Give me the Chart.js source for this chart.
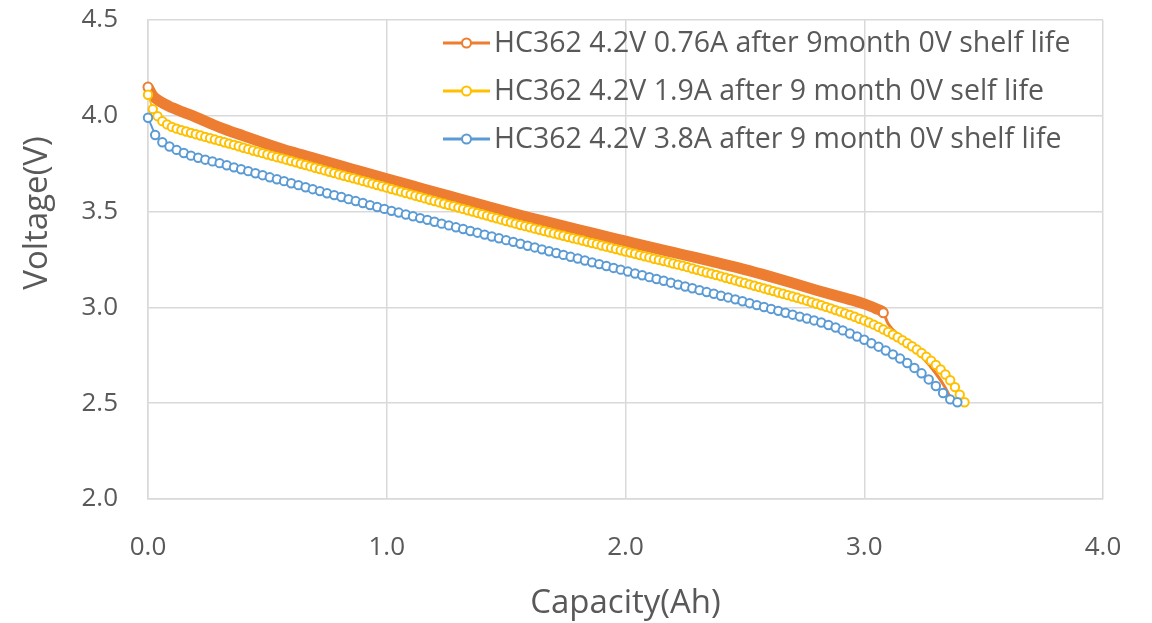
<!DOCTYPE html>
<html>
<head>
<meta charset="utf-8">
<title>HC362 discharge after 0V shelf life</title>
<script src="https://cdn.jsdelivr.net/npm/chart.js@4.4.1/dist/chart.umd.min.js"></script>
<style>
    html, body { margin: 0; padding: 0; background: #fff; }
    #wrap { width: 1152px; height: 623px; }
</style>
</head>
<body>
<div id="wrap"><canvas id="dischargeChart" width="1152" height="623"></canvas></div>
<script>
// ============================================
// DATA
// ============================================

const seriesLabels = [
    'HC362 4.2V 0.76A after 9month 0V shelf life',
    'HC362 4.2V 1.9A after 9 month 0V self life',
    'HC362 4.2V 3.8A after 9 month 0V shelf life'
];
const seriesColors = ['#ED7D31', '#FFC000', '#5B9BD5'];

const xTicks = [0, 1, 2, 3, 4];
const yTicks = [2.0, 2.5, 3.0, 3.5, 4.0, 4.5];

// 0.76A run: logged so densely the markers merge into a band
const orangeCap = [0, 0.02, 0.05, 0.10, 0.15, 0.20, 0.30, 0.40, 0.50, 0.60, 0.70, 0.80, 0.90, 1.00,
    1.10, 1.20, 1.30, 1.40, 1.50, 1.60, 1.70, 1.80, 1.90, 2.00, 2.10, 2.20, 2.30, 2.40, 2.50,
    2.60, 2.70, 2.80, 2.90, 2.95, 3.00, 3.05, 3.08];
const orangeVolt = [4.150, 4.105, 4.075, 4.043, 4.018, 3.993, 3.940, 3.895, 3.852, 3.812, 3.777, 3.742, 3.706, 3.671,
    3.637, 3.602, 3.568, 3.534, 3.500, 3.468, 3.437, 3.406, 3.376, 3.346, 3.316, 3.287, 3.258, 3.228, 3.197,
    3.163, 3.127, 3.090, 3.055, 3.038, 3.018, 2.993, 2.972];
// line-only tail of the 0.76A run
const orangeTailCap = [3.10, 3.16, 3.24, 3.30, 3.34, 3.37];
const orangeTailVolt = [2.915, 2.840, 2.745, 2.655, 2.580, 2.505];

const yellowCap = [
    0, 0.02, 0.04, 0.06, 0.08, 0.10, 0.12, 0.14, 0.16, 0.18,
    0.20, 0.22, 0.24, 0.26, 0.28, 0.30, 0.32, 0.34, 0.36, 0.38,
    0.40, 0.42, 0.44, 0.46, 0.48, 0.50, 0.52, 0.54, 0.56, 0.58,
    0.60, 0.62, 0.64, 0.66, 0.68, 0.70, 0.72, 0.74, 0.76, 0.78,
    0.80, 0.82, 0.84, 0.86, 0.88, 0.90, 0.92, 0.94, 0.96, 0.98,
    1.00, 1.02, 1.04, 1.06, 1.08, 1.10, 1.12, 1.14, 1.16, 1.18,
    1.20, 1.22, 1.24, 1.26, 1.28, 1.30, 1.32, 1.34, 1.36, 1.38,
    1.40, 1.42, 1.44, 1.46, 1.48, 1.50, 1.52, 1.54, 1.56, 1.58,
    1.60, 1.62, 1.64, 1.66, 1.68, 1.70, 1.72, 1.74, 1.76, 1.78,
    1.80, 1.82, 1.84, 1.86, 1.88, 1.90, 1.92, 1.94, 1.96, 1.98,
    2.00, 2.02, 2.04, 2.06, 2.08, 2.10, 2.12, 2.14, 2.16, 2.18,
    2.20, 2.22, 2.24, 2.26, 2.28, 2.30, 2.32, 2.34, 2.36, 2.38,
    2.40, 2.42, 2.44, 2.46, 2.48, 2.50, 2.52, 2.54, 2.56, 2.58,
    2.60, 2.62, 2.64, 2.66, 2.68, 2.70, 2.72, 2.74, 2.76, 2.78,
    2.80, 2.82, 2.84, 2.86, 2.88, 2.90, 2.92, 2.94, 2.96, 2.98,
    3.00, 3.02, 3.04, 3.06, 3.08, 3.10, 3.12, 3.14, 3.16, 3.18,
    3.20, 3.22, 3.24, 3.26, 3.28, 3.30, 3.32, 3.34, 3.36, 3.38,
    3.40, 3.42];
const yellowVolt = [
    4.110, 4.035, 3.998, 3.972, 3.955, 3.942, 3.933, 3.925, 3.918, 3.911,
    3.904, 3.897, 3.890, 3.883, 3.876, 3.869, 3.862, 3.855, 3.848, 3.841,
    3.833, 3.826, 3.819, 3.812, 3.805, 3.798, 3.791, 3.784, 3.778, 3.771,
    3.764, 3.757, 3.750, 3.743, 3.736, 3.729, 3.722, 3.715, 3.708, 3.701,
    3.694, 3.687, 3.680, 3.674, 3.667, 3.660, 3.653, 3.646, 3.639, 3.632,
    3.625, 3.618, 3.611, 3.604, 3.597, 3.590, 3.583, 3.576, 3.569, 3.562,
    3.555, 3.548, 3.541, 3.534, 3.528, 3.521, 3.514, 3.507, 3.500, 3.493,
    3.486, 3.479, 3.472, 3.465, 3.458, 3.451, 3.444, 3.437, 3.430, 3.424,
    3.418, 3.411, 3.405, 3.399, 3.392, 3.386, 3.380, 3.374, 3.367, 3.361,
    3.355, 3.349, 3.342, 3.336, 3.330, 3.323, 3.317, 3.311, 3.305, 3.298,
    3.292, 3.286, 3.280, 3.273, 3.267, 3.261, 3.254, 3.248, 3.242, 3.236,
    3.229, 3.223, 3.217, 3.210, 3.203, 3.196, 3.189, 3.182, 3.176, 3.169,
    3.162, 3.155, 3.148, 3.141, 3.134, 3.127, 3.120, 3.113, 3.106, 3.099,
    3.092, 3.085, 3.078, 3.071, 3.064, 3.057, 3.050, 3.042, 3.035, 3.027,
    3.019, 3.011, 3.003, 2.995, 2.986, 2.978, 2.969, 2.960, 2.951, 2.941,
    2.932, 2.921, 2.910, 2.898, 2.885, 2.872, 2.858, 2.844, 2.829, 2.813,
    2.797, 2.780, 2.762, 2.743, 2.722, 2.700, 2.676, 2.650, 2.620, 2.584,
    2.545, 2.505];

const blueCap = [
    0, 0.03, 0.06, 0.09, 0.12, 0.15, 0.18, 0.21, 0.24, 0.27,
    0.30, 0.33, 0.36, 0.39, 0.42, 0.45, 0.48, 0.51, 0.54, 0.57,
    0.60, 0.63, 0.66, 0.69, 0.72, 0.75, 0.78, 0.81, 0.84, 0.87,
    0.90, 0.93, 0.96, 0.99, 1.02, 1.05, 1.08, 1.11, 1.14, 1.17,
    1.20, 1.23, 1.26, 1.29, 1.32, 1.35, 1.38, 1.41, 1.44, 1.47,
    1.50, 1.53, 1.56, 1.59, 1.62, 1.65, 1.68, 1.71, 1.74, 1.77,
    1.80, 1.83, 1.86, 1.89, 1.92, 1.95, 1.98, 2.01, 2.04, 2.07,
    2.10, 2.13, 2.16, 2.19, 2.22, 2.25, 2.28, 2.31, 2.34, 2.37,
    2.40, 2.43, 2.46, 2.49, 2.52, 2.55, 2.58, 2.61, 2.64, 2.67,
    2.70, 2.73, 2.76, 2.79, 2.82, 2.85, 2.88, 2.91, 2.94, 2.97,
    3.00, 3.03, 3.06, 3.09, 3.12, 3.15, 3.18, 3.21, 3.24, 3.27,
    3.30, 3.33, 3.36, 3.39];
const blueVolt = [
    3.990, 3.900, 3.862, 3.840, 3.822, 3.806, 3.792, 3.781, 3.771, 3.762,
    3.753, 3.742, 3.731, 3.721, 3.711, 3.700, 3.690, 3.679, 3.669, 3.659,
    3.648, 3.638, 3.627, 3.617, 3.607, 3.596, 3.586, 3.576, 3.565, 3.555,
    3.545, 3.534, 3.524, 3.514, 3.504, 3.495, 3.485, 3.476, 3.466, 3.457,
    3.447, 3.437, 3.428, 3.418, 3.409, 3.399, 3.390, 3.380, 3.370, 3.361,
    3.351, 3.342, 3.332, 3.322, 3.313, 3.303, 3.293, 3.284, 3.274, 3.264,
    3.255, 3.245, 3.235, 3.226, 3.216, 3.206, 3.197, 3.187, 3.177, 3.168,
    3.158, 3.148, 3.139, 3.129, 3.119, 3.109, 3.100, 3.090, 3.080, 3.071,
    3.061, 3.052, 3.042, 3.032, 3.022, 3.012, 3.002, 2.992, 2.982, 2.972,
    2.962, 2.952, 2.942, 2.932, 2.921, 2.908, 2.895, 2.880, 2.864, 2.848,
    2.831, 2.813, 2.795, 2.775, 2.755, 2.733, 2.710, 2.684, 2.656, 2.624,
    2.590, 2.553, 2.520, 2.505];

const xTitle = 'Capacity(Ah)';
const yTitle = 'Voltage(V)';

// ============================================
// HELPERS
// ============================================

const FONT = "'Open Sans', 'Noto Sans', sans-serif";
const TEXT_COLOR = '#595959';
const GRID_COLOR = '#d9d9d9';

function toPoints(caps, volts) {
    return caps.map((c, i) => ({ x: c, y: volts[i] }));
}

const orangeBandEnd = orangeCap.length - 1;

// legend + axis titles, drawn on top of the plot
const annotations = {
    id: 'annotations',
    afterDraw(chart) {
        const ctx = chart.ctx;
        ctx.save();

        // legend, stacked in the upper right of the plot
        ctx.font = '28.5px ' + FONT;
        ctx.textBaseline = 'middle';
        ctx.textAlign = 'left';
        chart.data.datasets.forEach((ds, i) => {
            const y = 43 + i * 48;
            ctx.strokeStyle = ds.borderColor;
            ctx.lineWidth = 3;
            ctx.beginPath();
            ctx.moveTo(443, y);
            ctx.lineTo(490, y);
            ctx.stroke();
            ctx.beginPath();
            ctx.arc(466.5, y, 4.5, 0, Math.PI * 2);
            ctx.fillStyle = '#fff';
            ctx.fill();
            ctx.lineWidth = 2;
            ctx.stroke();
            ctx.fillStyle = TEXT_COLOR;
            ctx.fillText(ds.label, 494, y + 1);
        });

        // axis titles
        const area = chart.chartArea;
        ctx.font = '33px ' + FONT;
        ctx.fillStyle = TEXT_COLOR;
        ctx.textAlign = 'center';
        ctx.fillText(xTitle, (area.left + area.right) / 2, 604);

        ctx.translate(38, 213);
        ctx.rotate(-Math.PI / 2);
        ctx.fillText(yTitle, 0, 0);

        ctx.restore();
    }
};

// ============================================
// CHART
// ============================================

const datasets = [
    {
        label: seriesLabels[0],
        data: toPoints(orangeCap.concat(orangeTailCap), orangeVolt.concat(orangeTailVolt)),
        borderColor: seriesColors[0],
        borderWidth: 11,
        borderJoinStyle: 'round',
        cubicInterpolationMode: 'monotone',
        pointRadius: c => (c.dataIndex === 0 || c.dataIndex === orangeBandEnd) ? 4.5 : 0,
        pointBackgroundColor: '#fff',
        pointBorderColor: seriesColors[0],
        pointBorderWidth: 2,
        segment: {
            borderWidth: c => c.p0DataIndex < orangeBandEnd ? 11 : 3
        },
        clip: false,
        order: 3
    },
    {
        label: seriesLabels[1],
        data: toPoints(yellowCap, yellowVolt),
        borderColor: seriesColors[1],
        borderWidth: 2,
        pointRadius: 4.2,
        pointBackgroundColor: '#fff',
        pointBorderColor: seriesColors[1],
        pointBorderWidth: 2,
        clip: false,
        order: 2
    },
    {
        label: seriesLabels[2],
        data: toPoints(blueCap, blueVolt),
        borderColor: seriesColors[2],
        borderWidth: 2,
        pointRadius: 4.2,
        pointBackgroundColor: '#fff',
        pointBorderColor: seriesColors[2],
        pointBorderWidth: 2,
        clip: false,
        order: 1
    }
];

new Chart(document.getElementById('dischargeChart'), {
    type: 'line',
    data: { datasets: datasets },
    options: {
        responsive: false,
        animation: false,
        devicePixelRatio: 1,
        layout: { padding: { top: 20, right: 49, left: 0, bottom: 0 } },
        plugins: {
            legend: { display: false },
            tooltip: { enabled: false }
        },
        scales: {
            x: {
                type: 'linear',
                min: xTicks[0],
                max: xTicks[xTicks.length - 1],
                afterBuildTicks: s => { s.ticks = xTicks.map(v => ({ value: v })); },
                afterFit: s => {
                    s.height = 124;
                    s.paddingLeft = 0;
                    s.paddingRight = 0;
                },
                ticks: {
                    callback: v => v.toFixed(1),
                    color: TEXT_COLOR,
                    font: { family: FONT, size: 26 },
                    padding: 33,
                    maxRotation: 0
                },
                grid: { color: GRID_COLOR, lineWidth: 1.5, drawTicks: false },
                border: { color: GRID_COLOR, width: 1.5 }
            },
            y: {
                min: yTicks[0],
                max: yTicks[yTicks.length - 1],
                afterBuildTicks: s => { s.ticks = yTicks.map(v => ({ value: v })); },
                afterFit: s => {
                    s.width = 148;
                    s.paddingTop = 0;
                    s.paddingBottom = 0;
                },
                ticks: {
                    callback: v => v.toFixed(1),
                    color: TEXT_COLOR,
                    font: { family: FONT, size: 26 },
                    padding: 30
                },
                grid: { color: GRID_COLOR, lineWidth: 1.5, drawTicks: false },
                border: { color: GRID_COLOR, width: 1.5 }
            }
        }
    },
    plugins: [annotations]
});
</script>
</body>
</html>
